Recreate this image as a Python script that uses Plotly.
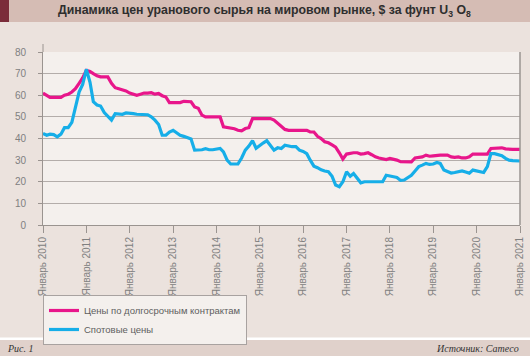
import plotly.graph_objects as go
import pandas as pd

# ---- data (monthly, Jan 2010 .. Jan 2021) ----
long_term = [
    61, 60, 59, 59, 59, 59, 60, 60.5, 61.5, 63, 65.5, 68,            # 2010
    71.5, 71, 70, 69, 68.5, 68.5, 68.5, 65.5, 63.5, 63, 62.5, 62,     # 2011
    61, 60.5, 60, 60.5, 61, 61, 61.2, 60.5, 60.8, 59.8, 59.2, 56.6,   # 2012
    56.6, 56.6, 56.6, 57.2, 57, 57, 54.6, 54, 50.8, 50, 50, 50,       # 2013
    50, 50, 45.4, 45.2, 45, 44.5, 43.8, 43.5, 44.6, 45, 49.2, 49.2,   # 2014
    49.2, 49.2, 49.2, 49.2, 48.5, 47, 45.4, 44.2, 43.8, 43.8, 43.8, 43.8,  # 2015
    43.8, 43.8, 43, 43, 41, 40, 38.5, 38, 37, 36, 33.4, 30.5,         # 2016
    32.8, 33.2, 33.4, 33.4, 32.8, 33, 33.4, 32.5, 31.5, 31, 30.5, 30.3,  # 2017
    30.8, 30.5, 30, 29.3, 29.2, 29.2, 29.2, 31, 31.3, 31.5, 32.3, 31.8,  # 2018
    32, 32.3, 32.3, 32.3, 32.3, 31.5, 31.3, 31.5, 31, 31, 31.5, 32.8,    # 2019
    32.8, 32.8, 32.8, 32.8, 35.4, 35.5, 35.7, 35.7, 35.2, 35, 35, 35,    # 2020
    35,                                                                # 2021
]
spot = [
    42.3, 41.5, 42, 41.8, 40.8, 42, 45, 45, 47.5, 54, 61.5, 65,       # 2010
    72, 66, 57, 55.5, 55, 52, 50.5, 48.5, 51.5, 51.5, 51.2, 51.8,     # 2011
    51.8, 51.5, 51.2, 51.2, 51, 51, 50, 48.5, 46.5, 41.5, 41.5, 43,   # 2012
    43.8, 42.5, 41.5, 41, 40.5, 39.8, 34.6, 34.6, 34.8, 35.3, 34.8, 34.8,  # 2013
    35.2, 35.4, 33.8, 30, 28.2, 28.2, 28.2, 31, 34.6, 36.5, 39, 35.5,    # 2014
    36.9, 38, 39, 37, 34.6, 35.7, 35.4, 36.9, 36.4, 36.2, 36.2, 34.6,    # 2015
    34, 33, 30, 27.2, 26.5, 25.5, 25, 24.6, 22.5, 18.5, 17.7, 20,        # 2016
    24.6, 22.5, 23.8, 21.8, 19.5, 20, 20, 20, 20, 20, 20, 23,            # 2017
    22.5, 22.3, 22, 20.6, 20.8, 22, 23, 25, 27, 27.7, 28.5, 28,          # 2018
    28.2, 28.9, 28.5, 25.4, 24.6, 24, 24.3, 24.8, 25, 24.5, 24, 25.4,    # 2019
    25, 24.6, 24.3, 27, 33, 33, 32.6, 32, 30.8, 30, 29.8, 29.7,          # 2020
    29.6,                                                              # 2021
]
years = list(range(2010, 2022))
tick_labels = [f"Январь {y}" for y in years]
y_ticks = [0, 10, 20, 30, 40, 50, 60, 70, 80]

dates = pd.date_range("2010-01-01", periods=len(long_term), freq="MS")
tick_dates = [f"{y}-01-01" for y in years]

W, H = 530, 356
L, R, T, B = 43, 10, 52, 131
pw, ph = W - L - R, H - T - B

def px(x):
    return (x - L) / pw

def py(y):
    return (H - B - y) / ph

fig = go.Figure()
fig.add_trace(go.Scatter(x=dates, y=long_term, mode="lines",
                         name="Цены по долгосрочным контрактам",
                         line=dict(color="#e8168b", width=3.2)))
fig.add_trace(go.Scatter(x=dates, y=spot, mode="lines",
                         name="Спотовые цены",
                         line=dict(color="#16aee8", width=3.2)))

shapes = [
    # title bar
    dict(type="rect", xref="paper", yref="paper", x0=px(0), x1=px(W), y0=py(22), y1=py(0),
         fillcolor="#d5bcb4", line=dict(width=0), layer="below"),
    dict(type="rect", xref="paper", yref="paper", x0=px(0), x1=px(9), y0=py(22), y1=py(0),
         fillcolor="#7b2c3a", line=dict(width=0), layer="below"),
    # footer white line and bar
    dict(type="rect", xref="paper", yref="paper", x0=px(0), x1=px(W), y0=py(340), y1=py(337.5),
         fillcolor="#ffffff", line=dict(width=0), layer="below"),
    dict(type="rect", xref="paper", yref="paper", x0=px(0), x1=px(W), y0=py(H), y1=py(340),
         fillcolor="#e0d1cb", line=dict(width=0), layer="below"),
    # y axis line extension above plot
    dict(type="line", xref="paper", yref="paper", x0=0, x1=0, y0=1, y1=py(44),
         line=dict(color="#9a9490", width=1)),
    # right border
    dict(type="line", xref="paper", yref="paper", x0=1, x1=1, y0=0, y1=1,
         line=dict(color="#9a9490", width=1.5)),
]

annotations = [
    dict(text="<b>Динамика цен уранового сырья на мировом рынке, $ за фунт U<sub>3</sub> O<sub>8</sub></b>",
         xref="paper", yref="paper", x=px(264), y=py(11), xanchor="center", yanchor="middle",
         showarrow=False, font=dict(family="Liberation Sans", size=12.3, color="#2e2e2e")),
    dict(text="<i>Рис. 1</i>", xref="paper", yref="paper", x=px(5), y=py(348),
         xanchor="left", yanchor="middle", showarrow=False,
         font=dict(family="Liberation Serif", size=10, color="#333333")),
    dict(text="<i>Источник: Cameco</i>", xref="paper", yref="paper", x=px(521), y=py(348),
         xanchor="right", yanchor="middle", showarrow=False,
         font=dict(family="Liberation Serif", size=10, color="#333333")),
]

fig.update_layout(
    width=W, height=H,
    margin=dict(l=L, r=R, t=T, b=B, pad=0, autoexpand=False),
    paper_bgcolor="#ebe2dd", plot_bgcolor="#f4f0ed",
    font=dict(family="Liberation Sans", size=9, color="#808080"),
    showlegend=True,
    legend=dict(x=0, y=py(295), xanchor="left", yanchor="top",
                bgcolor="#f4f0ed", bordercolor="#a8a2a0", borderwidth=1,
                font=dict(size=9.5, color="#5e5e5e"), tracegroupgap=0,
                itemwidth=30),
    shapes=shapes, annotations=annotations,
    xaxis=dict(type="date", range=["2010-01-01", "2021-01-01"],
               tickvals=tick_dates, ticktext=tick_labels, tickangle=-90,
               ticks="outside", ticklen=7, tickcolor="#9a9490",
               showline=True, linecolor="#9a9490", linewidth=1,
               showgrid=False, zeroline=False, automargin=False,
               tickfont=dict(size=10, color="#808080")),
    yaxis=dict(range=[0, 80], tickvals=y_ticks, ticks="outside", ticklen=4,
               tickcolor="#9a9490", showline=True, linecolor="#9a9490",
               gridcolor="#b3adaa", gridwidth=1, zeroline=False,
               ticklabelstandoff=10, automargin=False,
               tickfont=dict(size=10, color="#808080")),
)

fig.write_html("out.html", config={"displayModeBar": False},
               post_script="document.body.style.margin='0';")
